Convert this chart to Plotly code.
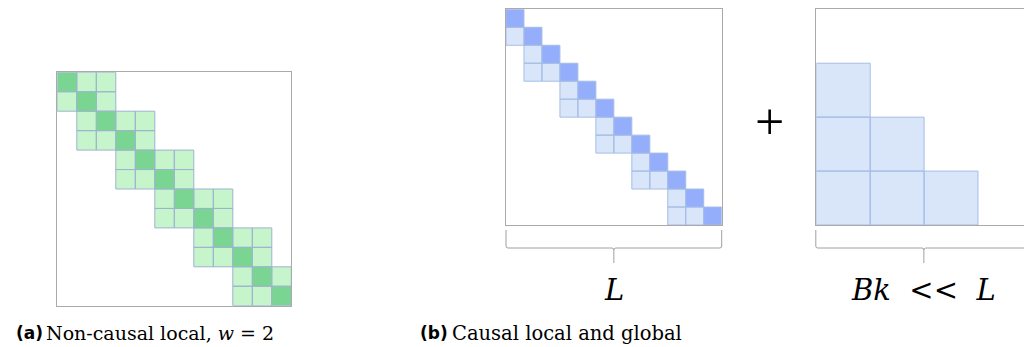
import plotly.graph_objects as go

W, H = 1024, 347

# ---------------- data ----------------
N = 12                     # tokens per sequence (grid size)
# (a) non-causal local attention, w = 2: band of attended columns per query row
a_start = [0, 0, 1, 1, 3, 3, 5, 5, 7, 7, 9, 9]
a_end = [2, 2, 4, 4, 6, 6, 8, 8, 10, 10, 11, 11]
# (b) causal local attention: first attended column per row (last = diagonal)
b_start = [0, 0, 1, 1, 3, 3, 5, 5, 7, 7, 9, 9]
# (b) global attention over blocks: number of attended blocks per block row
g_nblocks = [0, 1, 2, 3]
G = 4                      # block rows / cols in the global matrix

# ---------------- styles ----------------
GREEN_DARK, GREEN_LIGHT, GREEN_EDGE = "#7bd592", "#c6f5cc", "#9db3cf"
BLUE_DARK, BLUE_LIGHT, BLUE_EDGE = "#94aefb", "#d9e6f9", "#a6bde6"
FRAME = "#aaaaaa"


def cells_xy(cells):
    xs, ys = [], []
    for (r, c) in cells:
        xs += [c, c + 1, c + 1, c, c, None]
        ys += [r, r, r + 1, r + 1, r, None]
    return xs, ys


def add_cells(fig, cells, fill, edge, xa, ya):
    xs, ys = cells_xy(cells)
    fig.add_trace(go.Scatter(x=xs, y=ys, mode="lines", fill="toself",
                             fillcolor=fill, line=dict(color=edge, width=1),
                             hoverinfo="skip", showlegend=False,
                             xaxis=xa, yaxis=ya))


fig = go.Figure()

# panel (a)
a_light = [(r, c) for r in range(N) for c in range(a_start[r], a_end[r] + 1) if c != r]
a_dark = [(r, r) for r in range(N)]
add_cells(fig, a_light, GREEN_LIGHT, GREEN_EDGE, "x", "y")
add_cells(fig, a_dark, GREEN_DARK, GREEN_EDGE, "x", "y")

# panel (b) local
b_light = [(r, c) for r in range(N) for c in range(b_start[r], r)]
b_dark = [(r, r) for r in range(N)]
add_cells(fig, b_light, BLUE_LIGHT, BLUE_EDGE, "x2", "y2")
add_cells(fig, b_dark, BLUE_DARK, BLUE_EDGE, "x2", "y2")

# panel (b) global
g_cells = [(r, c) for r in range(G) for c in range(g_nblocks[r])]
add_cells(fig, g_cells, BLUE_LIGHT, BLUE_EDGE, "x3", "y3")

# ---------------- layout ----------------
def px(x):
    return x / W


def py(y):
    return 1 - y / H


# pixel boxes of the three matrices
A = (57.3, 291.3, 72.3, 305.7)
B = (506.0, 721.7, 9.3, 225.0)
C_left, C_cell = 816.3, 53.9
C = (C_left, W, 9.3, 225.0)

ax_common = dict(showgrid=False, zeroline=False, showticklabels=False,
                 ticks="", showline=True, linecolor=FRAME, linewidth=1,
                 fixedrange=True)

fig.update_layout(
    width=W, height=H, margin=dict(l=0, r=0, t=0, b=0),
    paper_bgcolor="white", plot_bgcolor="white",
    xaxis=dict(domain=[px(A[0]), px(A[1])], range=[0, N], mirror=True, **ax_common),
    yaxis=dict(domain=[py(A[3]), py(A[2])], range=[N, 0], mirror=True, **ax_common),
    xaxis2=dict(domain=[px(B[0]), px(B[1])], range=[0, N], mirror=True,
                anchor="y2", **ax_common),
    yaxis2=dict(domain=[py(B[3]), py(B[2])], range=[N, 0], mirror=True,
                anchor="x2", **ax_common),
    xaxis3=dict(domain=[px(C[0]), 1.0], range=[0, (W - C_left) / C_cell], mirror=True,
                anchor="y3", **ax_common),
    yaxis3=dict(domain=[py(C[3]), py(C[2])], range=[G, 0], mirror=False,
                anchor="x3", **ax_common),
)


# braces under panel (b) matrices
def brace_path(x0, x1, ytop=230, ybar=248, ytip=263, r=2.0):
    xm = (x0 + x1) / 2
    pts = [
        f"M {px(x0)},{py(ytop)}",
        f"L {px(x0)},{py(ybar - r)}",
        f"Q {px(x0)},{py(ybar)} {px(x0 + r)},{py(ybar)}",
        f"L {px(xm - r)},{py(ybar)}",
        f"Q {px(xm)},{py(ybar)} {px(xm)},{py(ybar + r)}",
        f"L {px(xm)},{py(ytip)}",
        f"M {px(xm)},{py(ybar + r)}",
        f"Q {px(xm)},{py(ybar)} {px(xm + r)},{py(ybar)}",
        f"L {px(x1 - r)},{py(ybar)}",
        f"Q {px(x1)},{py(ybar)} {px(x1)},{py(ybar - r)}",
        f"L {px(x1)},{py(ytop)}",
    ]
    return " ".join(pts)


for (x0, x1) in [(B[0], B[1]), (C_left - 0.5, C_left + G * C_cell)]:
    fig.add_shape(type="path", xref="paper", yref="paper",
                  path=brace_path(x0, x1), line=dict(color="#a0a0a0", width=1))

SERIF = "DejaVu Serif, Liberation Serif, serif"
SANS = "DejaVu Sans, Open Sans, sans-serif"

annots = [
    # plus sign
    dict(x=px(769), y=py(121), text="+", font=dict(family="Liberation Serif", size=52, color="black"),
         xanchor="center", yanchor="middle"),
    # brace labels
    dict(x=px(614), y=py(290), text="<i>L</i>", font=dict(family=SERIF, size=29, color="black"),
         xanchor="center", yanchor="middle"),
    dict(x=px(923), y=py(290), text="<i>Bk</i>&nbsp;&nbsp;&lt;&lt;&nbsp;&nbsp;<i>L</i>",
         font=dict(family=SERIF, size=29, color="black"), xanchor="center", yanchor="middle"),
    # captions
    dict(x=px(14), y=py(333), text="<b>(a)</b>", font=dict(family=SANS, size=17, color="black"),
         xanchor="left", yanchor="middle"),
    dict(x=px(44), y=py(333), text="Non-causal local, <i>w</i> = 2",
         font=dict(family=SERIF, size=19, color="black"), xanchor="left", yanchor="middle"),
    dict(x=px(418), y=py(333), text="<b>(b)</b>", font=dict(family=SANS, size=17, color="black"),
         xanchor="left", yanchor="middle"),
    dict(x=px(450), y=py(333), text="Causal local and global",
         font=dict(family=SERIF, size=19.5, color="black"), xanchor="left", yanchor="middle"),
]
for a in annots:
    fig.add_annotation(xref="paper", yref="paper", showarrow=False, **a)

fig.write_html("out.html", config={"displayModeBar": False, "staticPlot": True},
               post_script="document.body.style.margin='0';")
